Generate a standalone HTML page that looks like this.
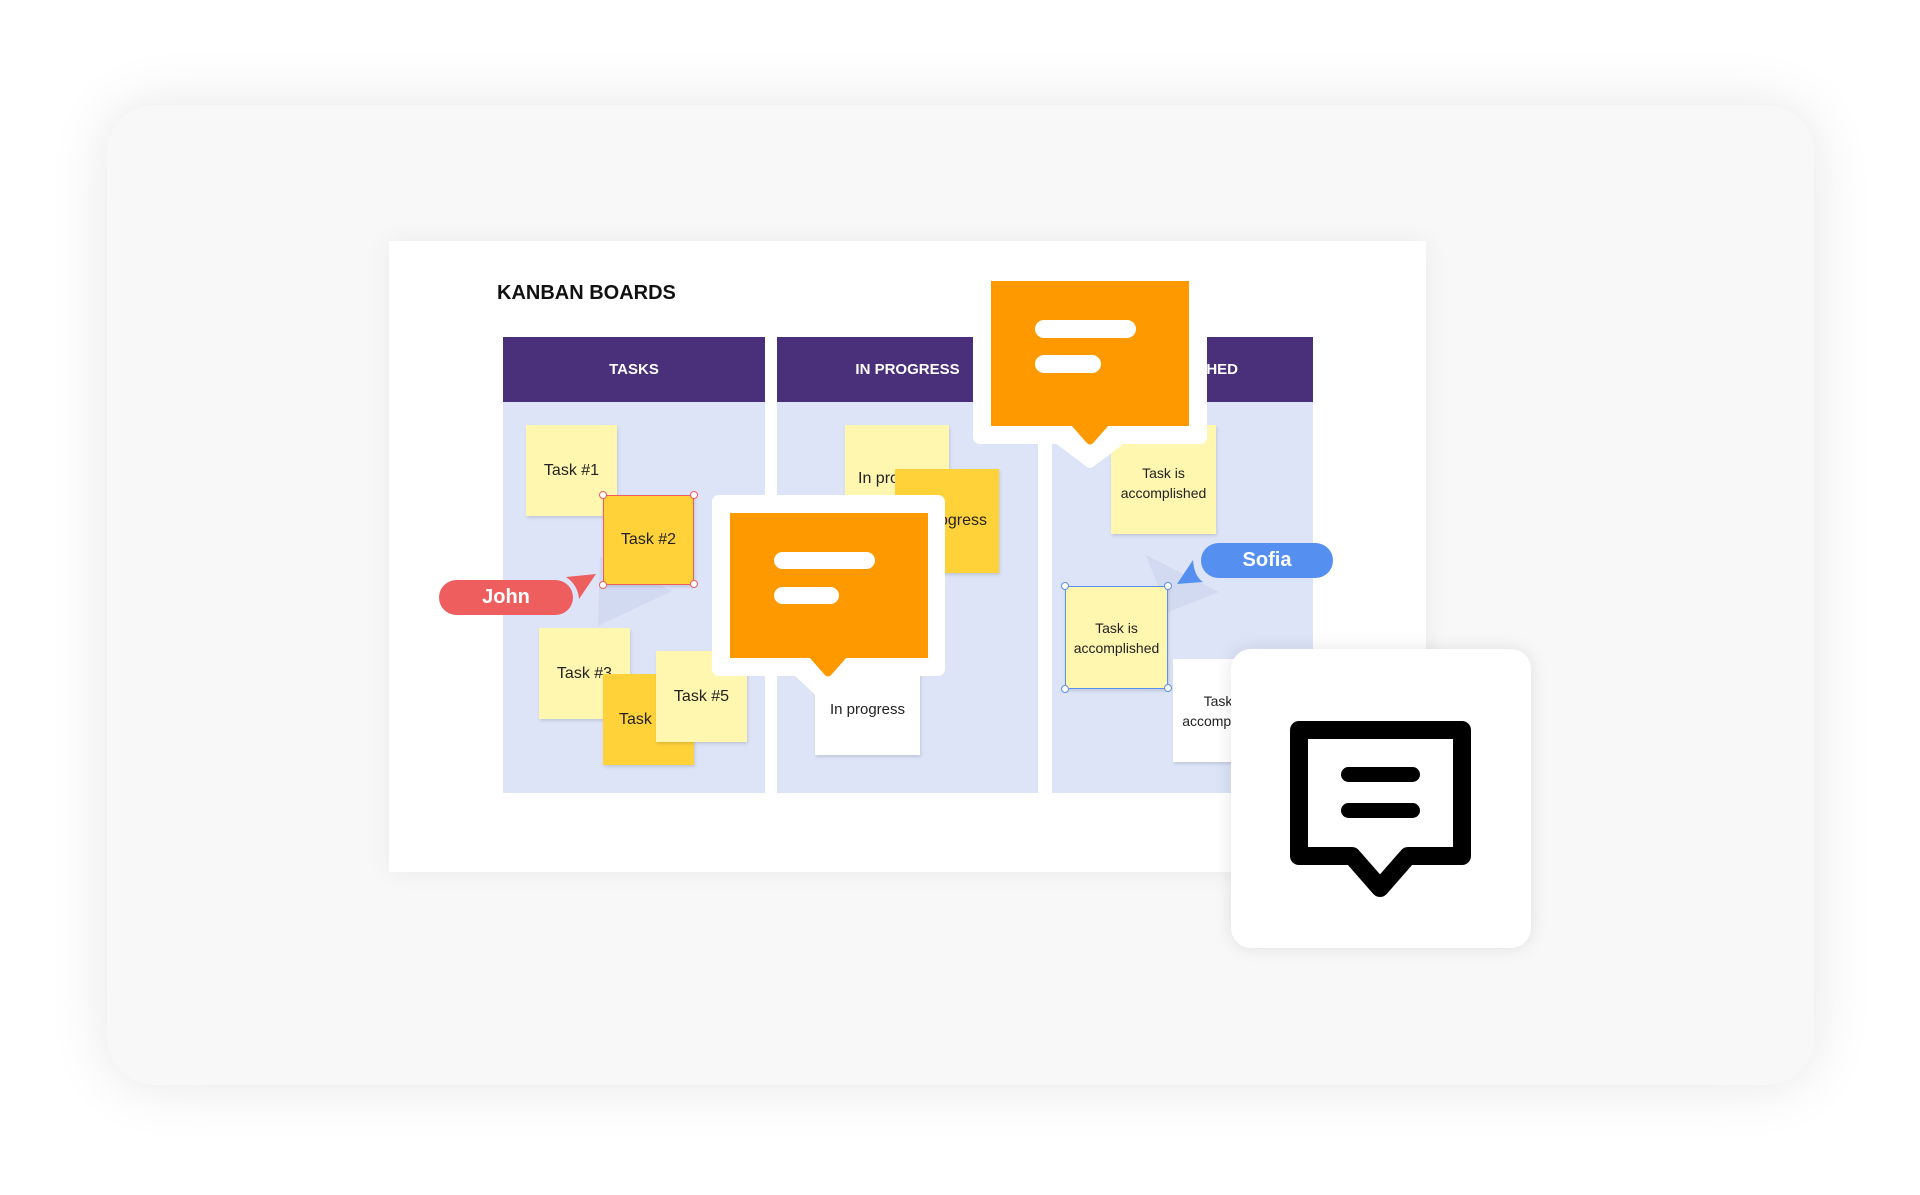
<!DOCTYPE html>
<html><head><meta charset="utf-8"><style>
*{margin:0;padding:0;box-sizing:border-box}
body{width:1920px;height:1195px;background:#fff;position:relative;overflow:hidden;font-family:"Liberation Sans",Arial,sans-serif}
.a{position:absolute}
.panel{left:107px;top:105px;width:1707px;height:980px;background:#f8f8f8;border-radius:48px;box-shadow:0 0 60px rgba(0,0,0,0.10)}
.card{left:389px;top:241px;width:1037px;height:631px;background:#fff;box-shadow:0 0 24px rgba(0,0,0,0.06)}
.col{background:#dde4f8}
.hd{background:#4a2f7a;color:#fff;font-weight:bold;font-size:15px;text-align:center;line-height:65px}
.st{display:flex;align-items:center;justify-content:center;text-align:center;font-size:16px;color:#222;box-shadow:1px 2px 3px rgba(0,0,0,0.12);line-height:20px}
.ly{background:#fff7b0}.dy{background:#ffd23a}.wh{background:#fff}
.h{width:8px;height:8px;border-radius:50%;background:#fff;border:1.6px solid #ee5e5f}
.hb{border-color:#5b8ff0}
</style></head><body>
<div class="a panel"></div>
<div class="a card"></div>
<div class="a" style="left:497px;top:282px;font-size:20px;font-weight:bold;color:#111">KANBAN BOARDS</div>

<div class="a col" style="left:503px;top:337px;width:262px;height:456px"></div>
<div class="a hd" style="left:503px;top:337px;width:262px;height:65px">TASKS</div>
<div class="a col" style="left:777px;top:337px;width:261px;height:456px"></div>
<div class="a hd" style="left:777px;top:337px;width:261px;height:65px">IN PROGRESS</div>
<div class="a col" style="left:1052px;top:337px;width:261px;height:456px"></div>
<div class="a hd" style="left:1052px;top:337px;width:261px;height:65px;text-align:right;padding-right:75px">FINISHED</div>

<svg class="a" style="left:0;top:0" width="1920" height="1195">
<polygon points="600,556 672,591 598,626" fill="rgba(175,180,220,0.22)"/>
<polygon points="1146,555 1219,592 1168,612" fill="rgba(175,180,220,0.22)"/>
</svg>

<div class="a st ly" style="left:526px;top:425px;width:91px;height:91px">Task #1</div>
<div class="a st dy" style="left:603px;top:495px;width:91px;height:90px;border:1.5px solid #ee5e5f">Task #2</div>
<div class="a h" style="left:599px;top:491px"></div><div class="a h" style="left:690px;top:491px"></div>
<div class="a h" style="left:599px;top:581px"></div><div class="a h" style="left:690px;top:580px"></div>
<div class="a st ly" style="left:539px;top:628px;width:91px;height:91px">Task #3</div>
<div class="a st dy" style="left:603px;top:674px;width:91px;height:91px;justify-content:flex-start;padding-left:16px">Task #4</div>
<div class="a st ly" style="left:656px;top:651px;width:91px;height:91px">Task #5</div>

<div class="a" style="left:439px;top:580px;width:134px;height:35px;border-radius:18px;background:#ee5e5f;color:#fff;font-weight:bold;font-size:20px;text-align:center;line-height:35px">John</div>
<svg class="a" style="left:0;top:0" width="1920" height="1195">
<path d="M566,577 L596,574 L579,599 Q578,585 566,577Z" fill="#ee5e5f"/>
</svg>

<div class="a st ly" style="left:845px;top:425px;width:104px;height:104px;justify-content:flex-start;padding-left:13px;align-items:flex-start;padding-top:44px">In progress</div>
<div class="a st dy" style="left:895px;top:469px;width:104px;height:104px">In progress</div>
<div class="a st wh" style="left:815px;top:650px;width:105px;height:105px;padding-top:14px;font-size:15px">In progress</div>

<div class="a st ly" style="left:1111px;top:425px;width:105px;height:109px;font-size:14px;padding-top:6px">Task is<br>accomplished</div>
<div class="a st ly" style="left:1065px;top:586px;width:103px;height:103px;font-size:14px;border:1.5px solid #5b8ff0">Task is<br>accomplished</div>
<div class="a h hb" style="left:1061px;top:582px"></div><div class="a h hb" style="left:1164px;top:582px"></div>
<div class="a h hb" style="left:1061px;top:685px"></div><div class="a h hb" style="left:1164px;top:684px"></div>
<div class="a st wh" style="left:1173px;top:659px;width:104px;height:103px;font-size:14px">Task is<br>accomplished</div>

<div class="a" style="left:1201px;top:543px;width:132px;height:35px;border-radius:18px;background:#5590f0;color:#fff;font-weight:bold;font-size:20px;text-align:center;line-height:35px">Sofia</div>
<svg class="a" style="left:0;top:0" width="1920" height="1195">
<path d="M1177,584 L1193,560 Q1194,576 1203,582Z" fill="#5590f0"/>
</svg>

<svg class="a" style="left:0;top:0" width="1920" height="1195">
<rect x="712" y="495" width="233" height="181" rx="7" fill="#fff"/>
<path d="M796,670 L828,700 L860,670Z" fill="#fff" stroke="#fff" stroke-width="10" stroke-linejoin="round"/>
<rect x="730" y="513" width="198" height="145" fill="#ff9900"/>
<path d="M809,657 L847,657 L832,674 Q828,679 824,674Z" fill="#ff9900"/>
<rect x="774" y="552" width="101" height="17" rx="8.5" fill="#fff"/>
<rect x="774" y="587" width="65" height="17" rx="8.5" fill="#fff"/>
<rect x="973" y="263" width="234" height="181" rx="7" fill="#fff"/>
<path d="M1057,438 L1090,463 L1123,438Z" fill="#fff" stroke="#fff" stroke-width="10" stroke-linejoin="round"/>
<rect x="991" y="281" width="198" height="145" fill="#ff9900"/>
<path d="M1071,425 L1109,425 L1094,442 Q1090,447 1086,442Z" fill="#ff9900"/>
<rect x="1035" y="320" width="101" height="18" rx="9" fill="#fff"/>
<rect x="1035" y="355" width="66" height="18" rx="9" fill="#fff"/>
</svg>

<div class="a" style="left:1231px;top:649px;width:300px;height:299px;background:#fff;border-radius:20px;box-shadow:0 0 18px rgba(0,0,0,0.10)"></div>
<svg class="a" style="left:0;top:0" width="1920" height="1195">
<path d="M1352,856 L1299,856 L1299,730 L1462,730 L1462,856 L1408,856 L1380,888 Z" fill="none" stroke="#000" stroke-width="18" stroke-linejoin="round"/>
<rect x="1341" y="767" width="79" height="15" rx="7.5" fill="#000"/>
<rect x="1341" y="803" width="79" height="15" rx="7.5" fill="#000"/>
</svg>
</body></html>
